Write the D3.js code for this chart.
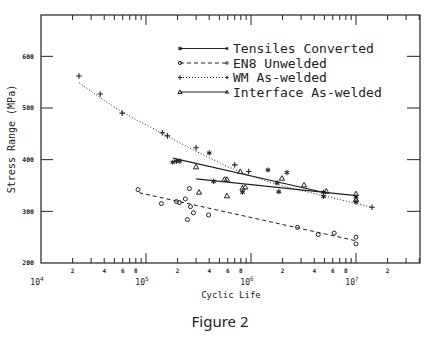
<!DOCTYPE html>
<html>
<head>
<meta charset="utf-8">
<script src="https://cdn.jsdelivr.net/npm/d3@7"></script>
<style>
  body { margin: 0; background: #fff; }
  text { fill: #222; }
</style>
</head>
<body>
<div id="chart"></div>
<script>
// data: [cycles, stress MPa]
const tensiles = [[1.8e5, 395], [1.95e5, 397], [2.1e5, 397], [4.0e5, 413], [4.4e5, 358],
  [8.3e5, 337], [1.45e6, 380], [1.77e6, 355], [1.84e6, 338], [2.2e6, 375],
  [4.9e6, 337], [4.9e6, 329], [1e7, 328], [1e7, 318]];
const en8 = [[8.4e4, 342], [1.4e5, 315], [1.95e5, 319], [2.08e5, 317], [2.37e5, 324],
  [2.59e5, 344], [2.65e5, 309], [2.83e5, 297], [2.48e5, 284], [3.94e5, 293],
  [2.77e6, 269], [4.36e6, 255], [6.2e6, 258], [1e7, 250], [1e7, 237]];
const wm = [[2.3e4, 562], [3.66e4, 527], [5.94e4, 490], [1.43e5, 452], [1.6e5, 446],
  [3.0e5, 423], [7.0e5, 390], [9.5e5, 377], [1.42e7, 308]];
const iface = [[3.0e5, 386], [3.2e5, 337], [5.6e5, 362], [5.9e5, 362], [5.9e5, 330],
  [7.9e5, 377], [8.3e5, 345], [8.8e5, 347], [1.97e6, 364], [3.2e6, 351],
  [5.2e6, 339], [1e7, 334], [1e7, 323]];

// fitted curves
const tensilesFit = [[1.8e5, 403], [4.83e6, 337]];
const en8Fit = [[8.6e4, 336], [1e7, 243]];
const wmFit = [[2.31e4, 549], [5.56e4, 496], [1.34e5, 454], [3.23e5, 413],
  [7.78e5, 377], [1.87e6, 351], [4.52e6, 332], [1.42e7, 308]];
const ifaceFit = [[3.0e5, 363], [1e7, 330.5]];

const legendLabels = ['Tensiles Converted', 'EN8 Unwelded', 'WM As-welded', 'Interface As-welded'];
const yTicks = [200, 300, 400, 500, 600];
const decades = [4, 5, 6, 7];

const W = 431, H = 340;
const mLeft = 41, mRight = 420, mTop = 15, mBottom = 263;
const ink = '#222';
const mono = '"DejaVu Sans Mono", monospace';

const svg = d3.select('#chart').append('svg')
  .attr('width', W).attr('height', H);

const x = d3.scaleLog().domain([1e4, 4.07e7]).range([mLeft, mRight]);
const y = d3.scaleLinear().domain([200, 680]).range([mBottom, mTop]);

// frame
svg.append('rect')
  .attr('x', mLeft).attr('y', mTop)
  .attr('width', mRight - mLeft).attr('height', mBottom - mTop)
  .attr('fill', 'none').attr('stroke', ink).attr('stroke-width', 1.2);

// log ticks on top and bottom
const minor = [];
for (let e = 4; e <= 7; e++) {
  for (let m = 2; m <= 9; m++) {
    const v = m * Math.pow(10, e);
    if (v < x.domain()[1]) minor.push(v);
  }
}
const major = [1e5, 1e6, 1e7];
const mant = v => Math.round(v / Math.pow(10, Math.floor(Math.log10(v) + 1e-9)));

const ticks = svg.append('g').attr('stroke', ink).attr('stroke-width', 1);
ticks.selectAll('.mb').data(minor).join('line')
  .attr('x1', d => x(d)).attr('x2', d => x(d))
  .attr('y1', mBottom).attr('y2', mBottom - 5);
ticks.append('g').selectAll('line').data(minor).join('line')
  .attr('x1', d => x(d)).attr('x2', d => x(d))
  .attr('y1', mTop).attr('y2', mTop + 5);
ticks.append('g').selectAll('line').data(major).join('line')
  .attr('x1', d => x(d)).attr('x2', d => x(d))
  .attr('y1', mBottom).attr('y2', mBottom - 10);
ticks.append('g').selectAll('line').data(major).join('line')
  .attr('x1', d => x(d)).attr('x2', d => x(d))
  .attr('y1', mTop).attr('y2', mTop + 10);

// y ticks both sides
ticks.append('g').selectAll('line').data(yTicks.slice(1)).join('line')
  .attr('x1', mLeft).attr('x2', mLeft + 12)
  .attr('y1', d => y(d)).attr('y2', d => y(d));
ticks.append('g').selectAll('line').data(yTicks.slice(1)).join('line')
  .attr('x1', mRight).attr('x2', mRight - 13)
  .attr('y1', d => y(d)).attr('y2', d => y(d));

// y labels
svg.append('g').selectAll('text').data(yTicks).join('text')
  .attr('x', 34).attr('y', d => y(d) + 2.3)
  .attr('text-anchor', 'end')
  .style('font', `bold 6.5px ${mono}`)
  .text(d => d);

// x minor labels
const minorLabels = minor.filter(v => mant(v) % 2 === 0 && (v < 1e7 || mant(v) === 2));
svg.append('g').selectAll('text').data(minorLabels).join('text')
  .attr('x', d => x(d)).attr('y', 272.5)
  .attr('text-anchor', 'middle')
  .style('font', `bold 6px ${mono}`)
  .text(d => mant(d));

// decade labels
const dec = svg.append('g').selectAll('text').data(decades).join('text')
  .attr('x', d => x(Math.pow(10, d)) - 4).attr('y', 285)
  .attr('text-anchor', 'middle')
  .style('font', `8px ${mono}`);
dec.append('tspan').text('10');
dec.append('tspan').attr('dy', -4).style('font-size', '6px').text(d => d);

// axis titles
svg.append('text')
  .attr('x', 231).attr('y', 298)
  .attr('text-anchor', 'middle')
  .style('font', `9px ${mono}`)
  .text('Cyclic Life');
svg.append('text')
  .attr('transform', 'translate(15,139) rotate(-90)')
  .attr('text-anchor', 'middle')
  .style('font', `10px ${mono}`)
  .text('Stress Range (MPa)');

svg.append('text')
  .attr('x', 220).attr('y', 327)
  .attr('text-anchor', 'middle')
  .style('font', '15px "Noto Sans", sans-serif')
  .text('Figure 2');

// markers
function drawMarker(g, kind, cx, cy, s = 1) {
  if (kind === 'star') {
    const r = 2.6 * s;
    for (let a = 0; a < 3; a++) {
      const t = Math.PI / 2 + a * Math.PI / 3;
      g.append('line')
        .attr('x1', cx - r * Math.cos(t)).attr('y1', cy - r * Math.sin(t))
        .attr('x2', cx + r * Math.cos(t)).attr('y2', cy + r * Math.sin(t))
        .attr('stroke', ink).attr('stroke-width', 1.1);
    }
  } else if (kind === 'plus') {
    const r = 2.8 * s;
    g.append('path')
      .attr('d', `M${cx - r},${cy}H${cx + r}M${cx},${cy - r}V${cy + r}`)
      .attr('stroke', ink).attr('stroke-width', 1.1).attr('fill', 'none');
  } else if (kind === 'circle') {
    g.append('circle').attr('cx', cx).attr('cy', cy).attr('r', 2 * s)
      .attr('fill', 'none').attr('stroke', ink).attr('stroke-width', 1);
  } else {
    const r = 2.6 * s;
    g.append('path')
      .attr('d', `M${cx},${cy - r}L${cx + r},${cy + r * 0.75}L${cx - r},${cy + r * 0.75}Z`)
      .attr('fill', 'none').attr('stroke', ink).attr('stroke-width', 1);
  }
}

const series = [
  { pts: tensiles, fit: tensilesFit, kind: 'star', dash: null, curve: d3.curveLinear },
  { pts: en8, fit: en8Fit, kind: 'circle', dash: '4,3', curve: d3.curveLinear },
  { pts: wm, fit: wmFit, kind: 'plus', dash: '1,2', curve: d3.curveMonotoneX },
  { pts: iface, fit: ifaceFit, kind: 'tri', dash: null, curve: d3.curveLinear }
];

const plot = svg.append('g');
series.forEach(s => {
  const line = d3.line().x(d => x(d[0])).y(d => y(d[1])).curve(s.curve);
  plot.append('path').datum(s.fit)
    .attr('d', line)
    .attr('fill', 'none').attr('stroke', ink)
    .attr('stroke-width', s.dash ? 1 : 1.2)
    .attr('stroke-dasharray', s.dash);
  const g = plot.append('g');
  s.pts.forEach(p => drawMarker(g, s.kind, x(p[0]), y(p[1])));
});

// legend
const leg = svg.append('g');
series.forEach((s, i) => {
  const ly = 48.5 + i * 14.5;
  leg.append('line')
    .attr('x1', 180).attr('x2', 227).attr('y1', ly).attr('y2', ly)
    .attr('stroke', ink).attr('stroke-width', s.dash ? 1 : 1.2)
    .attr('stroke-dasharray', s.dash);
  drawMarker(leg, s.kind, 180, ly, 0.8);
  drawMarker(leg, s.kind, 227, ly, 0.6);
  leg.append('text')
    .attr('x', 233).attr('y', ly + 4.5)
    .style('font', `13px ${mono}`)
    .text(legendLabels[i]);
});
</script>
</body>
</html>
